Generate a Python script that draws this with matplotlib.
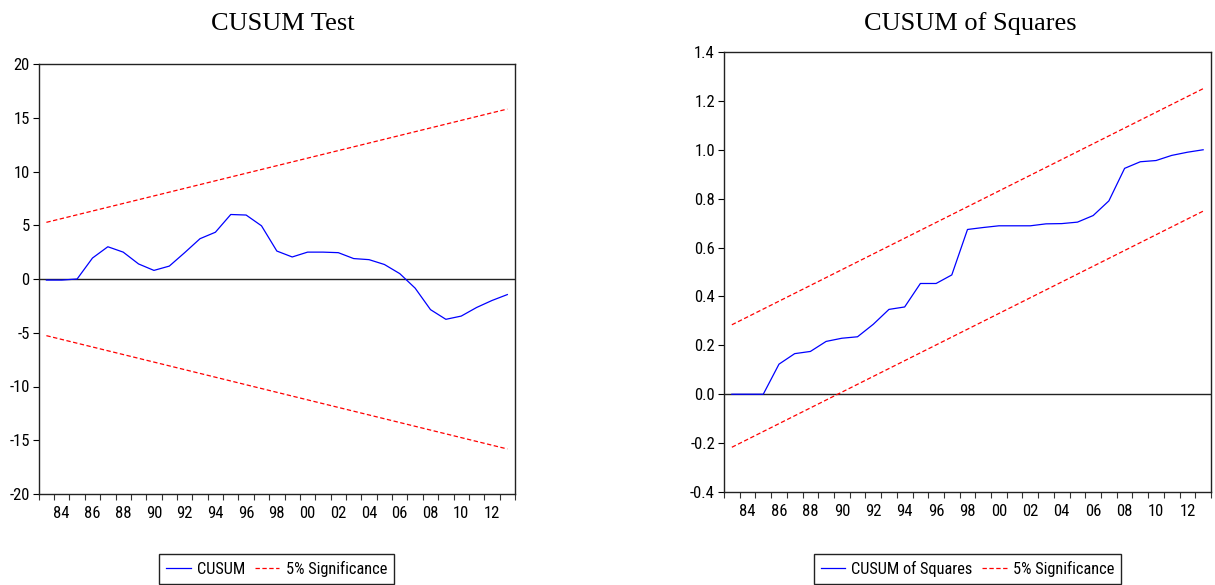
import matplotlib
matplotlib.use('Agg')
import matplotlib.pyplot as plt
from matplotlib import font_manager
from matplotlib.ticker import FixedLocator, FuncFormatter

# данные
years = list(range(1983, 2014))
cusum = [-0.1, -0.1, 0.0, 1.95, 3.0, 2.5, 1.4, 0.8, 1.2, 2.45, 3.75, 4.35, 6.0, 5.95, 4.95,
         2.6, 2.05, 2.5, 2.5, 2.45, 1.9, 1.8, 1.35, 0.5, -0.85, -2.85, -3.75, -3.45, -2.65,
         -2.0, -1.45]
cusum_sq = [0.0, 0.0, 0.0, 0.123, 0.166, 0.175, 0.216, 0.229, 0.235, 0.286, 0.347, 0.357,
            0.453, 0.453, 0.488, 0.674, 0.682, 0.689, 0.689, 0.689, 0.697, 0.698, 0.704,
            0.731, 0.791, 0.924, 0.951, 0.956, 0.977, 0.990, 1.0]

# границы 5% значимости (прямые, заданы концами)
band_years = [1983, 2013]
cusum_upper = [5.27, 15.81]
cusum_lower = [-5.27, -15.81]
sq_upper = [0.284, 1.25]
sq_lower = [-0.217, 0.749]

label_years = list(range(1984, 2014, 2))

W, H = 1215, 585
SERIF = ['Liberation Serif', 'DejaVu Serif']
BLUE = '#0000ff'
RED = '#ff0000'


def narrow_font():
    """ ищем узкий шрифт (Arial Narrow-подобный), если он есть в системе """
    wanted = ['liberation sans narrow', 'dejavu sans condensed', 'roboto condensed',
              'open sans condensed', 'noto sans condensed']
    for name in wanted:
        for f in font_manager.fontManager.ttflist:
            if f.name.lower() == name and f.weight in (400, 'normal', 'regular') and f.style == 'normal':
                return font_manager.FontProperties(fname=f.fname), True
    for f in font_manager.fontManager.ttflist:
        if f.stretch in ('condensed', 'semi-condensed', 'extra-condensed') and f.style == 'normal' \
                and f.weight in (400, 'normal', 'regular') and 'sans' in f.name.lower():
            return font_manager.FontProperties(fname=f.fname), True
    return font_manager.FontProperties(family=['Liberation Sans', 'DejaVu Sans']), False


NARROW, IS_NARROW = narrow_font()
TICK_SIZE = 12 if IS_NARROW else 11
LEG_SIZE = 11.8 if IS_NARROW else 10


def tick_prop(size):
    p = NARROW.copy()
    p.set_size(size)
    return p


def px_axes(fig, left, top, right, bottom):
    return fig.add_axes([left / W, 1 - bottom / H, (right - left) / W, (bottom - top) / H])


def style_axes(ax, yticks, yfmt):
    ax.set_xlim(years[0] - 0.5, years[-1] + 0.5)
    ax.set_ylim(yticks[0], yticks[-1])
    ax.set_yticks(yticks)
    ax.yaxis.set_major_formatter(FuncFormatter(yfmt))
    # подписи лет по центрам, засечки на границах лет
    ax.xaxis.set_major_locator(FixedLocator(label_years))
    ax.xaxis.set_major_formatter(FuncFormatter(lambda v, p: '%02d' % (int(round(v)) % 100)))
    ax.xaxis.set_minor_locator(FixedLocator([y - 0.5 for y in years] + [years[-1] + 0.5]))
    ax.tick_params(axis='x', which='major', length=0, pad=9)
    ax.tick_params(axis='x', which='minor', length=4.5, width=0.8, color='#333333')
    ax.tick_params(axis='y', length=4.5, width=0.8, pad=2)
    ax.tick_params(top=False, right=False)
    for lab in ax.get_xticklabels() + ax.get_yticklabels():
        lab.set_fontproperties(tick_prop(TICK_SIZE))
    for s in ax.spines.values():
        s.set_linewidth(1.0)
        s.set_color('#222222')
    ax.axhline(0, color='#222222', lw=1.0, zorder=1)


fig = plt.figure(figsize=(W / 100, H / 100), dpi=100)

ax1 = px_axes(fig, 38.7, 64, 515, 494)
l1, = ax1.plot(years, cusum, color=BLUE, lw=0.9, label='CUSUM', zorder=3)
l2, = ax1.plot(band_years, cusum_upper, color=RED, lw=0.9, dashes=(3.5, 2), label='5% Significance')
ax1.plot(band_years, cusum_lower, color=RED, lw=0.9, dashes=(3.5, 2))
style_axes(ax1, list(range(-20, 21, 5)), lambda v, p: '%d' % v)
fig.text(283 / W, 1 - 24 / H, 'CUSUM Test', family=SERIF, fontsize=19, ha='center', va='center')

ax2 = px_axes(fig, 724, 52, 1211, 492)
r1, = ax2.plot(years, cusum_sq, color=BLUE, lw=0.9, label='CUSUM of Squares', zorder=3)
r2, = ax2.plot(band_years, sq_upper, color=RED, lw=0.9, dashes=(3.5, 2), label='5% Significance')
ax2.plot(band_years, sq_lower, color=RED, lw=0.9, dashes=(3.5, 2))
style_axes(ax2, [round(-0.4 + 0.2 * i, 1) for i in range(10)], lambda v, p: '%.1f' % v)
fig.text(970 / W, 1 - 24 / H, 'CUSUM of Squares', family=SERIF, fontsize=19, ha='center', va='center')

for handles, cx in [([l1, l2], 276.5), ([r1, r2], 967.5)]:
    leg = fig.legend(handles=handles, loc='upper center', bbox_to_anchor=(cx / W, 1 - 554 / H),
                     ncol=2, frameon=True, fancybox=False, framealpha=1, edgecolor='#222222',
                     prop=tick_prop(LEG_SIZE), handlelength=1.5,
                     handletextpad=0.37, columnspacing=0.6, borderpad=0.42, borderaxespad=0)
    leg.get_frame().set_linewidth(1.0)

fig.savefig('out.png', dpi=100)
